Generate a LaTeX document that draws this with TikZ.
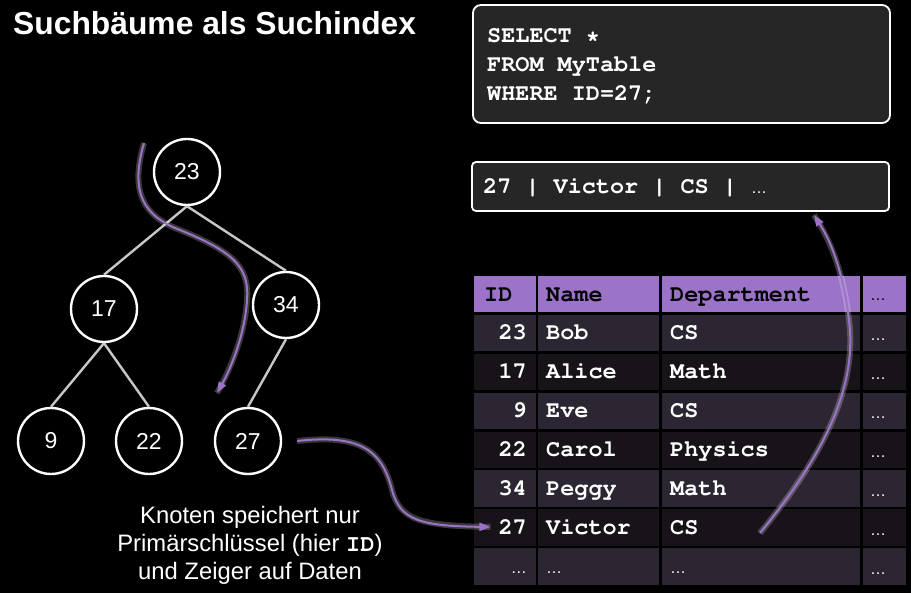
\documentclass[tikz,border=0pt]{standalone}
\usepackage[T1]{fontenc}
\usepackage{fontspec}
\setmainfont{Liberation Sans}
\setmonofont{Liberation Mono}
\usetikzlibrary{arrows.meta}
\definecolor{lila}{RGB}{155,115,200}
\definecolor{rowa}{RGB}{44,38,50}
\definecolor{rowb}{RGB}{23,19,25}
\definecolor{boxgray}{RGB}{38,38,38}
\newcommand\cour{\fontencoding{T1}\fontfamily{pcr}\fontseries{b}\selectfont}
\newcommand\dts{{\normalfont\fontsize{16}{16}\selectfont …}}
\begin{document}
\begin{tikzpicture}
      [x=1pt,y=-1pt,
       knoten/.style={circle,draw=white,line width=2.4pt,fill=black,minimum size=66pt,
         inner sep=0pt,text=white,font=\fontsize{23}{22}\selectfont},
       kante/.style={draw=black!22,line width=2.4pt},
       code/.style={font=\cour\fontsize{23.5}{29}\selectfont,text=white,
         anchor=base west,inner sep=0pt},
       kopf/.style={code,text=black},
       codebox/.style={draw=white,line width=1.8pt,fill=boxgray,rounded corners=8pt},
       zeiger/.style={draw=lila,line width=2pt,-{Triangle[length=11pt,width=8pt]},
         preaction={draw=white,opacity=0.22,line width=6pt,-}}]
      \fill[black] (0,0) rectangle (911,593);
      \node[font=\bfseries\fontsize{31.8}{32}\selectfont,text=white,anchor=base west,inner sep=0pt]
        (titel) at (13,35) {Suchbäume als Suchindex};

      % Baum
      \node[knoten] (n23) at (187,172) {23};
      \node[knoten] (n17) at (104,309) {17};
      \node[knoten] (n34) at (286,305) {34};
      \node[knoten] (n9) at (51,441) {9};
      \node[knoten] (n22) at (149,441) {22};
      \node[knoten] (n27) at (248,441) {27};
      \foreach \a/\b in {n23/n17,n23/n34,n17/n9,n17/n22,n34/n27}
        \draw[kante] (\a.south) -- (\b.north);

      \node[align=center,text=white,font=\fontsize{23.8}{28}\selectfont] (notiz) at (250,545)
        {Knoten speichert nur\\Primärschlüssel (hier {\cour ID})\\und Zeiger auf Daten};

      % Anfrage und Ergebnis
      \draw[codebox] (473,5) rectangle (890,123);
      \node[code] (q1) at (487,43) {SELECT *};
      \node[code] (q2) at (487,72) {FROM MyTable};
      \node[code] (q3) at (487,101) {WHERE ID=27;};
      \draw[codebox,rounded corners=4pt] (472,162) rectangle (889,211);
      \node[code] (erg) at (483,194) {27 | Victor | CS | \dts};

      % Tabelle
      \foreach \xa/\xb in {474/536,538/659,662/860,863/906}
        \fill[lila] (\xa,276) rectangle (\xb,312.5);
      \node[kopf] (hid) at (484,302) {ID};
      \node[kopf] (hname) at (546,302) {Name};
      \node[kopf] (hdep) at (670,302) {Department};
      \node[anchor=base,text=black,inner sep=0pt] (hmore) at (878,301) {\dts};
      \foreach \id/\nm/\dep [count=\r] in {23/Bob/CS,17/Alice/Math,9/Eve/CS,22/Carol/Physics,
          34/Peggy/Math,27/Victor/CS,\dts/\dts/\dts} {
        \pgfmathsetmacro\yt{276+\r*38.9}
        \pgfmathtruncatemacro\odd{mod(\r,2)}
        \ifnum\odd=1 \def\fc{rowa}\else\def\fc{rowb}\fi
        \foreach \xa/\xb in {474/536,538/659,662/860,863/906}
          \fill[\fc] (\xa,\yt) rectangle (\xb,\yt+36.5);
        \node[code,anchor=base east] (id\r) at (527,\yt+25) {\id};
        \node[code] (nm\r) at (546,\yt+25) {\nm};
        \node[code] (dp\r) at (670,\yt+25) {\dep};
        \node[anchor=base,text=white,inner sep=0pt] (mo\r) at (878,\yt+26) {\dts};
      }

      % Suchpfad und Zeiger
      \coordinate (s0) at (144,143);
      \coordinate (s1) at (217,393);
      \draw[zeiger] (s0) .. controls (132,185) and (138,212) .. (175,228)
        .. controls (230,250) and (250,265) .. (247,300)
        .. controls (245,335) and (230,370) .. (s1);
      \coordinate (z0) at ([xshift=15pt]n27.east);
      \draw[zeiger] (z0) .. controls (360,434) and (382,450) .. (392,490)
        .. controls (400,520) and (420,526) .. ([xshift=-8pt]id6.west);
      \coordinate (r0) at (760,533);
      \coordinate (r1) at (814,215);
      \draw[zeiger] (r0) .. controls (820,460) and (858,390) .. (849,320)
        .. controls (843,270) and (830,240) .. (r1);
\end{tikzpicture}
\end{document}
